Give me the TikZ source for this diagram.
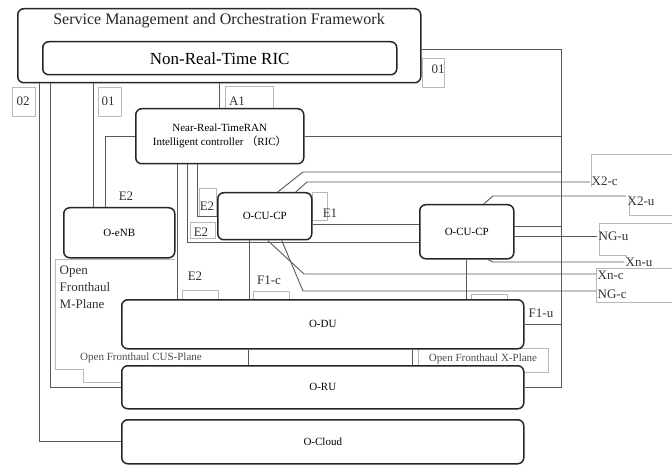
\documentclass[tikz,border=0pt]{standalone}
\usepackage{fontspec}
\setmainfont{Liberation Serif}
\newfontfamily\cjk{Noto Sans CJK SC}
\tikzset{
  box/.style={draw=black!85, fill=white, line width=1.5pt, rounded corners=6pt,
    anchor=north west, font=\fontsize{11}{14}\selectfont},
  link/.style={draw=black!65, line width=0.9pt},
  tag/.style={draw=black!28, line width=0.5pt},
  lbl/.style={font=\fontsize{13}{15}\selectfont, text=black!80, inner sep=1.5pt},
  plane/.style={font=\fontsize{11}{13}\selectfont, text=black!70, inner sep=0pt}
}
\begin{document}
\begin{tikzpicture}[x=1pt,y=-1pt]
            \useasboundingbox[fill=white] (0,0) rectangle (672,465);

            % label frames
            \draw [tag] (422,58) rectangle (444,87);
            \draw [tag] (12,87) rectangle (35,116);
            \draw [tag] (98,87) rectangle (121,116);
            \draw [tag] (225,86) rectangle (273,108);
            \draw [tag] (199,188) rectangle (216,216);
            \draw [tag] (190,222) rectangle (215,238);
            \draw [tag] (312,192) rectangle (327,220);
            \draw [tag] (182,290) rectangle (218,300);
            \draw [tag] (253,291) rectangle (289,300);
            \draw [tag] (471,294) rectangle (507,300);
            \draw [tag] (672,154) -| (591,187);
            \draw [tag] (629,195) |- (672,215);
            \draw [tag] (672,223) -| (599,255) -- (626,255) -- (626,258);
            \draw [tag] (672,268) -| (596,302) -- (672,302);
            \draw [tag] (175,259) -- (55,259) -- (55,369) -- (83,369) -- (83,382) -- (121,382);
            \draw [tag] (418,348) rectangle (548,372);

            % blocks
            \node [box, minimum width=403pt, minimum height=74pt] (smo) at (17,8) {};
            \node [font=\fontsize{16}{18}\selectfont, text=black!85] (smotitle) at (219,21)
                {Service Management and Orchestration Framework};
            \node [box, minimum width=354pt, minimum height=33pt, font=\fontsize{17}{19}\selectfont] (nrt) at (42,41)
                {Non-Real-Time RIC};
            \node [box, minimum width=168pt, minimum height=55pt, align=center] (nearric) at (135,108)
                {Near-Real-TimeRAN\\Intelligent controller {\cjk （}RIC{\cjk ）}};
            \node [box, minimum width=111pt, minimum height=50pt] (oenb) at (63,207) {O-eNB};
            \node [box, minimum width=94pt, minimum height=47pt] (ocucp) at (217,192) {O-CU-CP};
            \node [box, minimum width=94pt, minimum height=54pt] (ocuup) at (419,204) {O-CU-CP};
            \node [box, minimum width=402pt, minimum height=49pt] (odu) at (121,299) {O-DU};
            \node [box, minimum width=402pt, minimum height=43pt] (oru) at (121,365) {O-RU};
            \node [box, minimum width=402pt, minimum height=44pt] (ocloud) at (121,419) {O-Cloud};

            % port labels
            \node [lbl, anchor=west] (x2clbl) at (590,181) {X2-c};
            \node [lbl, anchor=west] (x2ulbl) at (626,201) {X2-u};
            \node [lbl, anchor=west] (ngulbl) at (597,236) {NG-u};
            \node [lbl, anchor=west] (xnulbl) at (624,262) {Xn-u};
            \node [lbl, anchor=west] (xnclbl) at (596,275) {Xn-c};
            \node [lbl, anchor=west] (ngclbl) at (596,294) {NG-c};

            % rails
            \coordinate (o2) at (39,0);
            \coordinate (mp) at (50,0);
            \coordinate (o1l) at (93,0);
            \coordinate (e2d) at (105,0);
            \coordinate (e2a) at (177,0);
            \coordinate (e2b) at (187,242);
            \coordinate (e2c) at (197,0);
            \coordinate (cus) at (248,0);
            \coordinate (xpl) at (412,0);
            \coordinate (o1top) at (561,49);
            \coordinate (e1) at (311,224);

            % SMO interfaces
            \draw [link] (smo.south -| o2) |- (ocloud.west);
            \draw [link] (smo.south -| mp) |- (oru.west);
            \draw [link] (smo.south -| o1l) -- (oenb.north -| o1l);
            \draw [link] (smo.south -| nearric.north) -- (nearric.north);
            \draw [link] (smo.east |- o1top) -- (o1top) |- (oru.east);
            \draw [link] (nearric.east) -- (nearric.east -| o1top);
            \draw [link] (odu.east) -- (odu.east -| o1top);

            % E2 / E1
            \draw [link] (nearric.west) -| (oenb.north -| e2d);
            \draw [link] (nearric.south -| e2a) -- (odu.north -| e2a);
            \draw [link] (nearric.south -| e2b) |- (ocuup.west |- e2b);
            \draw [link] (nearric.south -| e2c) |- (ocucp.west);
            \draw [link] (ocucp.east |- e1) -- (ocuup.west |- e1);

            % left O-CU-CP
            \coordinate (cpo1) at (303,172);
            \coordinate (x2c) at (307,182);
            \coordinate (xnc) at (304,274);
            \coordinate (ngc) at (303,291);
            \draw [link] ([xshift=13]ocucp.north) -- (cpo1) -- (cpo1 -| o1top);
            \draw [link] ([xshift=31]ocucp.north) -- (x2c) -- (x2c -| x2clbl.west);
            \draw [link] ([xshift=3]ocucp.south) -- (xnc) -- (xnc -| xnclbl.west);
            \draw [link] ([xshift=17]ocucp.south) -- (ngc) -- (ngc -| ngclbl.west);
            \draw [link] ([xshift=-15]ocucp.south) -- ([xshift=-15]ocucp.south |- odu.north);

            % right O-CU-CP
            \coordinate (x2u) at (493,196);
            \coordinate (xnu) at (493,262);
            \path ([yshift=5]ocuup.east) coordinate (upo1);
            \path ([yshift=-5]ocuup.east) coordinate (upng);
            \draw [link] ([xshift=17]ocuup.north) -- (x2u) -- (x2u -| x2ulbl.west);
            \draw [link] ([xshift=21]ocuup.south) -- (xnu) -- (xnu -| xnulbl.west);
            \draw [link] (upo1) -- (upo1 -| o1top);
            \draw [link] (upng) -- (upng -| ngulbl.west);
            \draw [link] (ocuup.south) -- (ocuup.south |- odu.north);

            % fronthaul
            \draw [link] (odu.south -| cus) -- (oru.north -| cus);
            \draw [link] (odu.south -| xpl) -- (oru.north -| xpl);

            % interface names
            \node [lbl] (l01r) at (438,69) {01};
            \node [lbl] (l02) at (23,101) {02};
            \node [lbl] (l01) at (108,101) {01};
            \node [lbl] (la1) at (237,101) {A1};
            \node [lbl] (le2n) at (126,196) {E2};
            \node [lbl] (le2c) at (207,206) {E2};
            \node [lbl] (le2u) at (201,232) {E2};
            \node [lbl] (le1) at (330,213) {E1};
            \node [lbl] (le2d) at (195,276) {E2};
            \node [lbl] (lf1c) at (269,280) {F1-c};
            \node [lbl] (lf1u) at (541,313) {F1-u};
            \node [lbl, anchor=north west, align=left, font=\fontsize{13}{17}\selectfont] (lmp) at (58,264)
                {Open\\Fronthaul\\M-Plane};
            \node [plane] (lcus) at (141,358) {Open Fronthaul CUS-Plane};
            \node [plane] (lxp) at (483,359) {Open Fronthaul X-Plane};
        \end{tikzpicture}
\end{document}
